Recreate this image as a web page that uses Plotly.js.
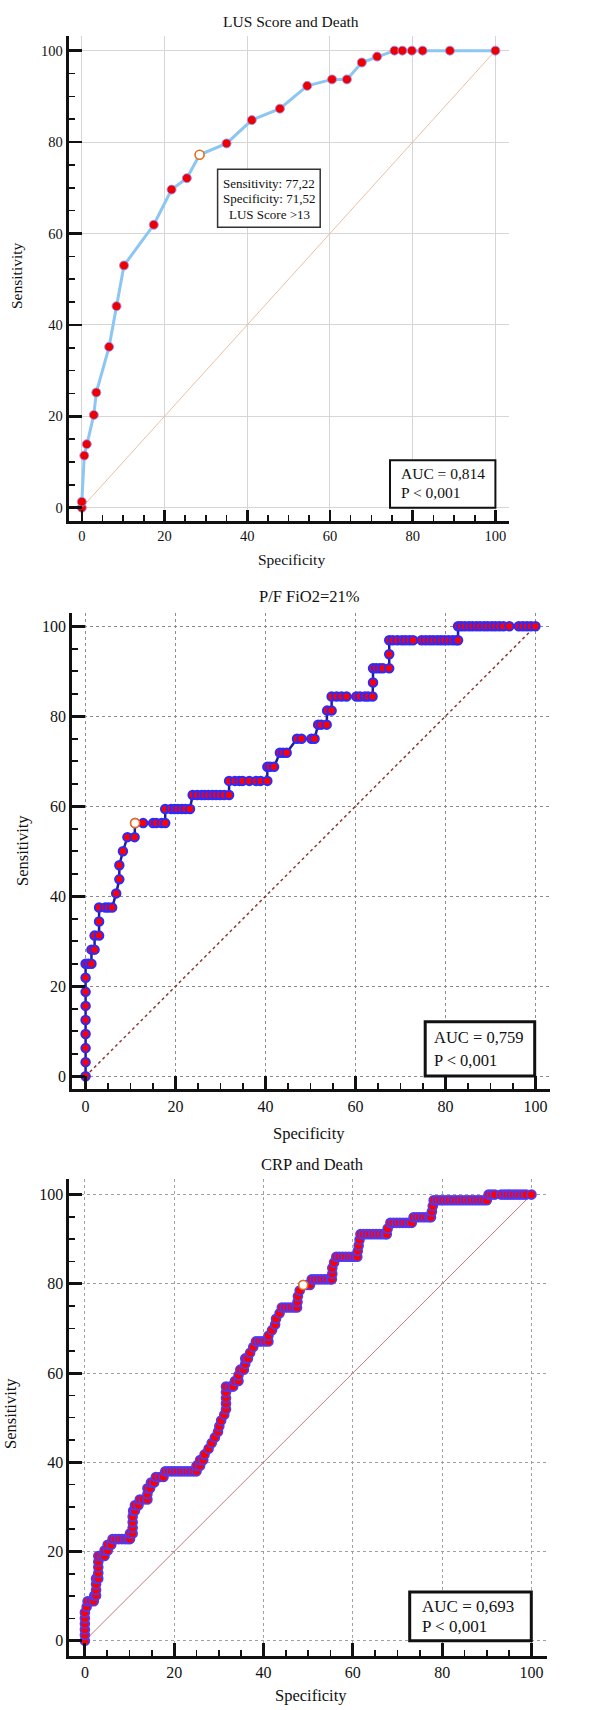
<!DOCTYPE html>
<html>
<head>
<meta charset="utf-8">
<script src="https://cdn.plot.ly/plotly-3.0.1.min.js"></script>
<style>
  html, body { margin: 0; padding: 0; background: #fff; }
  #chart { width: 605px; height: 1710px; }
</style>
</head>
<body>
<div id="chart"></div>
<script>
// ---------------- DATA ----------------
const titles = ["LUS Score and Death", "P/F FiO2=21%", "CRP and Death"];
const axisTitleX = "Specificity";
const axisTitleY = "Sensitivity";
const tickVals = [0, 20, 40, 60, 80, 100];
const diagX = [0, 100];
const diagY = [0, 100];

// Chart 1: LUS Score and Death
const lusSpec = [0, 0, 0.6, 1.2, 2.9, 3.5, 6.6, 8.4, 10.2, 17.4, 21.7, 25.4, 28.48, 35.0, 41.1, 47.9, 54.5, 60.5, 64.1, 67.7, 71.4, 75.6, 77.5, 79.8, 82.4, 89.0, 100];
const lusSens = [0, 1.3, 11.4, 13.9, 20.3, 25.2, 35.2, 44.1, 53.0, 61.9, 69.6, 72.1, 77.22, 79.7, 84.8, 87.3, 92.3, 93.7, 93.7, 97.4, 98.7, 100, 100, 100, 100, 100, 100];
const lusOpt = {spec: 28.48, sens: 77.22};
const lusCriterion = ["Sensitivity: 77,22", "Specificity: 71,52", "LUS Score >13"];
const lusStats = ["AUC = 0,814", "P < 0,001"];

// Chart 2: P/F FiO2=21%  (sensitivity levels and the specificity points on each level)
const pfLevels = [0, 3.13, 6.25, 9.38, 12.5, 15.63, 18.75, 21.88, 25, 28.13, 31.25, 34.38, 37.5, 40.63, 43.75, 46.88, 50, 53.13, 56.25, 59.38, 62.5, 65.63, 68.75, 71.88, 75, 78.13, 81.25, 84.38, 87.5, 90.63, 93.75, 96.88, 100];
const pfSpecByLevel = [
  [0], [0], [0], [0], [0], [0], [0], [0],
  [0, 0.6, 1.3],
  [1.3, 2.0],
  [2.0, 3.0],
  [3.0],
  [3.0, 4.4, 5.1, 5.9],
  [6.8],
  [7.5],
  [7.5],
  [8.3],
  [9.3, 10.9],
  [11.0, 12.8, 15.0, 15.7, 16.9, 17.7],
  [17.7, 19.0, 19.8, 20.5, 21.4, 22.2, 23.2],
  [23.8, 24.8, 25.8, 26.5, 27.3, 28.2, 29.0, 29.9, 30.8, 31.9],
  [31.9, 33.2, 34.2, 34.9, 36.4, 37.9, 38.9, 40.4],
  [40.4, 41.0, 41.9],
  [43.2, 43.9, 44.7],
  [47.0, 48.0, 50.2, 50.9],
  [51.7, 52.4, 53.6],
  [53.7, 54.7],
  [54.7, 55.8, 56.9, 58.0, 60.2, 61.0, 62.1, 62.8, 63.8],
  [63.9],
  [63.9, 64.6, 65.4, 66.1, 67.5],
  [67.5],
  [67.5, 68.3, 69.3, 70.3, 71.1, 72.0, 72.8, 74.7, 75.6, 76.5, 77.3, 78.2, 79.0, 79.8, 80.7, 81.6, 82.4, 82.8],
  [82.8, 83.5, 84.3, 85.2, 86.0, 86.9, 87.7, 88.6, 89.4, 90.3, 91.1, 92.0, 92.9, 94.2, 96.3, 97.2, 98.1, 99.0, 100]
];
const pfOpt = {spec: 11.0, sens: 56.25};
const pfStats = ["AUC = 0,759", "P < 0,001"];

// Chart 3: CRP and Death
const crpLevels = [0, 1.27, 2.53, 3.80, 5.06, 6.33, 7.59, 8.86, 10.13, 11.39, 12.66, 13.92, 15.19, 16.46, 17.72, 18.99, 20.25, 21.52, 22.78, 24.05, 25.32, 26.58, 27.85, 29.11, 30.38, 31.65, 32.91, 34.18, 35.44, 36.71, 37.97, 39.24, 40.51, 41.77, 43.04, 44.30, 45.57, 46.84, 48.10, 49.37, 50.63, 51.90, 53.16, 54.43, 55.70, 56.96, 58.23, 59.49, 60.76, 62.03, 63.29, 64.56, 65.82, 67.09, 68.35, 69.62, 70.89, 72.15, 73.42, 74.68, 75.95, 77.22, 78.48, 79.75, 81.01, 82.28, 83.54, 84.81, 86.08, 87.34, 88.61, 89.87, 91.14, 92.41, 93.67, 94.94, 96.20, 97.47, 98.73, 100];
const crpSpecByLevel = [
  [0], [0], [0], [0], [0], [0],
  [0.4],
  [0.6, 1.3, 2.0],
  [2.1, 2.5],
  [2.5],
  [2.5],
  [2.5, 3.0],
  [3.0],
  [3.0],
  [3.0],
  [3.0, 3.8, 4.4],
  [4.4, 5.1],
  [5.1, 5.9],
  [6.2, 6.9, 7.6, 8.3, 9.0, 9.6, 10.1],
  [10.1, 10.7],
  [10.7],
  [10.7],
  [10.7],
  [10.8, 11.2],
  [11.2, 12.0],
  [12.3, 13.1, 14.0],
  [14.0],
  [14.0, 14.6],
  [14.8, 15.5],
  [15.9, 16.8, 17.6],
  [18.0, 18.7, 19.4, 20.1, 20.8, 21.5, 22.2, 22.9, 23.6, 24.3, 25.0],
  [25.0, 25.8],
  [25.8, 26.5],
  [26.8],
  [27.7],
  [28.4],
  [29.1],
  [29.8],
  [30.1],
  [30.5],
  [31.2],
  [31.6],
  [31.6],
  [31.6],
  [31.6],
  [31.6, 32.5, 33.2],
  [33.6, 34.4],
  [34.4],
  [34.8, 35.6],
  [35.9],
  [35.9, 36.5],
  [37.0],
  [37.7],
  [38.3, 39.0, 39.7, 40.4, 41.1],
  [41.1],
  [41.9],
  [42.6],
  [42.8],
  [43.6],
  [44.1, 44.8, 45.5, 46.2, 46.9, 47.5],
  [47.6],
  [47.7],
  [48.1],
  [48.9, 49.6, 50.4],
  [50.8, 51.5, 52.2, 52.9, 53.6, 54.3, 55.0, 55.3],
  [55.4],
  [55.4],
  [55.8],
  [56.3, 57.0, 57.7, 58.4, 59.1, 59.8, 60.4, 61.0],
  [61.1],
  [61.3],
  [61.5],
  [61.7, 62.4, 63.1, 63.8, 64.5, 65.2, 65.9, 66.6, 67.3, 67.6],
  [67.8],
  [68.4, 69.1, 69.8, 70.5, 71.2, 71.9, 72.6, 73.2],
  [73.6, 74.3, 75.0, 75.7, 76.4, 77.1, 77.5],
  [77.7],
  [77.9],
  [78.1, 78.8, 79.5, 80.2, 80.9, 81.6, 82.3, 83.0, 83.7, 84.4, 85.1, 85.8, 86.5, 87.2, 87.9, 88.6, 89.3, 90.0],
  [90.4, 91.1, 91.8, 93.2, 93.9, 94.6, 95.3, 96.0, 96.7, 97.4, 98.1, 98.8, 100]
];
const crpOpt = {spec: 48.9, sens: 79.75};
const crpStats = ["AUC = 0,693", "P < 0,001"];

// ---------------- BUILD ----------------
function flatten(levels, specRows) {
  const xs = [], ys = [];
  specRows.forEach((row, i) => row.forEach(v => { xs.push(v); ys.push(levels[i]); }));
  return {x: xs, y: ys};
}
const pf = flatten(pfLevels, pfSpecByLevel);
const crp = flatten(crpLevels, crpSpecByLevel);

const W = 605, H = 1710;
const PX = v => v / W;
const PY = v => 1 - v / H;
const FONT = "Liberation Serif, Times New Roman, serif";
const TXT = "#111";

function axis(domain, range, anchor, o) {
  return {
    domain: domain, range: range, anchor: anchor,
    tickmode: "array", tickvals: tickVals,
    showline: true, linecolor: "#111", linewidth: o.lw,
    ticks: "inside", ticklen: o.ticklen, tickwidth: o.tw, tickcolor: "#111",
    minor: {ticks: "inside", ticklen: o.minorlen, tickwidth: 1.6, tickcolor: "#111", dtick: 5, tick0: 0, showgrid: false},
    showgrid: true, gridcolor: o.gridcolor, gridwidth: 1, griddash: o.griddash,
    zeroline: false, mirror: false,
    tickfont: {family: FONT, size: o.fs, color: TXT},
    ticklabelstandoff: o.standoff || 0,
    fixedrange: true
  };
}

const layout = {
  width: W, height: H,
  margin: {l: 0, r: 0, t: 0, b: 0},
  paper_bgcolor: "#fff", plot_bgcolor: "#fff",
  showlegend: false,
  xaxis: axis([PX(68.7), PX(509.3)], [-3.17, 103.36], "y",
    {lw: 3, ticklen: 11, tw: 2.5, minorlen: 6, gridcolor: "#d6d6d6", griddash: "solid", fs: 14.5}),
  yaxis: axis([PY(520.7), PY(36)], [-2.84, 103.2], "x",
    {lw: 3, ticklen: 13, tw: 2.5, minorlen: 6, gridcolor: "#d6d6d6", griddash: "solid", fs: 14.5}),
  xaxis2: axis([PX(72.1), PX(549.8)], [-3.0, 103.2], "y2",
    {lw: 3, ticklen: 13, tw: 3, minorlen: 6, gridcolor: "#8c8c8c", griddash: "dot", fs: 16}),
  yaxis2: axis([PY(1089.3), PY(612.7)], [-2.9, 103.0], "x2",
    {lw: 3, ticklen: 13, tw: 3, minorlen: 6, gridcolor: "#8c8c8c", griddash: "dot", fs: 16}),
  xaxis3: axis([PX(69.4), PX(547.1)], [-3.47, 103.5], "y3",
    {lw: 3, ticklen: 13, tw: 3, minorlen: 6, gridcolor: "#a0a0a0", griddash: "dot", fs: 16}),
  yaxis3: axis([PY(1655.7), PY(1179)], [-3.36, 103.5], "x3",
    {lw: 3, ticklen: 13, tw: 3, minorlen: 6, gridcolor: "#a0a0a0", griddash: "dot", fs: 16}),
  shapes: [],
  annotations: []
};

function ann(text, x, y, size, opts) {
  layout.annotations.push(Object.assign({
    text: text, xref: "paper", yref: "paper", x: PX(x), y: PY(y),
    xanchor: "center", yanchor: "middle", showarrow: false,
    font: {family: FONT, size: size, color: TXT}
  }, opts || {}));
}
function box(x0, y0, x1, y1, w, color) {
  layout.shapes.push({type: "rect", xref: "paper", yref: "paper",
    x0: PX(x0), x1: PX(x1), y0: PY(y1), y1: PY(y0),
    line: {color: color || "#111", width: w}, fillcolor: "#fff", layer: "above"});
}

// Titles
ann(titles[0], 290.5, 21, 15.5);
ann(titles[1], 309.8, 596, 16.5);
ann(titles[2], 312, 1164.3, 16.5);
// Axis titles
ann(axisTitleX, 291.7, 559.3, 15.5);
ann(axisTitleX, 309.4, 1133.3, 16.5);
ann(axisTitleX, 311.1, 1695, 16.5);
ann(axisTitleY, 16, 276, 15.5, {textangle: -90});
ann(axisTitleY, 22, 851, 16.5, {textangle: -90});
ann(axisTitleY, 10, 1414, 16.5, {textangle: -90});

// Chart 1 criterion box
box(217.6, 169.3, 320.2, 227.3, 1.5, "#333");
ann(lusCriterion[0], 269, 183.5, 13);
ann(lusCriterion[1], 269, 199, 13);
ann(lusCriterion[2], 269, 214.5, 13);

// AUC boxes
box(390, 460.3, 495.4, 507.7, 2);
ann(lusStats[0], 398.5, 474, 15.5, {xanchor: "left"});
ann(lusStats[1], 398.5, 492.7, 15.5, {xanchor: "left"});

box(425.2, 1021.7, 534.7, 1076, 3);
ann(pfStats[0], 432, 1037.7, 16.5, {xanchor: "left"});
ann(pfStats[1], 432, 1060, 16.5, {xanchor: "left"});

box(409.7, 1592, 531.3, 1640.7, 3);
ann(crpStats[0], 419.8, 1606.7, 17, {xanchor: "left"});
ann(crpStats[1], 419.8, 1626, 17, {xanchor: "left"});

const traces = [
  // Chart 1
  {x: diagX, y: diagY, xaxis: "x", yaxis: "y", mode: "lines", line: {color: "rgb(232,192,165)", width: 1}, hoverinfo: "skip"},
  {x: lusSpec, y: lusSens, xaxis: "x", yaxis: "y", mode: "lines+markers",
   line: {color: "rgb(140,198,242)", width: 3},
   marker: {color: "#ee0000", size: 9, line: {color: "rgba(150,150,255,0.9)", width: 1}}},
  {x: [lusOpt.spec], y: [lusOpt.sens], xaxis: "x", yaxis: "y", mode: "markers",
   marker: {color: "#fff", size: 9, line: {color: "#e8701a", width: 1.6}}},
  // Chart 2
  {x: diagX, y: diagY, xaxis: "x2", yaxis: "y2", mode: "lines", line: {color: "#8b3a3a", width: 1.5, dash: "dot"}, hoverinfo: "skip"},
  {x: pf.x, y: pf.y, xaxis: "x2", yaxis: "y2", mode: "lines+markers",
   line: {color: "#1e1e9a", width: 2.5},
   marker: {color: "#ff0000", size: 8.5, line: {color: "#2b2bff", width: 2}}},
  {x: [pfOpt.spec], y: [pfOpt.sens], xaxis: "x2", yaxis: "y2", mode: "markers",
   marker: {color: "#fff", size: 9, line: {color: "#e8701a", width: 1.6}}},
  // Chart 3
  {x: diagX, y: diagY, xaxis: "x3", yaxis: "y3", mode: "lines", line: {color: "rgb(200,120,120)", width: 1}, hoverinfo: "skip"},
  {x: crp.x, y: crp.y, xaxis: "x3", yaxis: "y3", mode: "lines+markers",
   line: {color: "#2020a0", width: 2},
   marker: {color: "#ff0000", size: 9, line: {color: "#4a3cff", width: 1.6}}},
  {x: [crpOpt.spec], y: [crpOpt.sens], xaxis: "x3", yaxis: "y3", mode: "markers",
   marker: {color: "#fff", size: 9, line: {color: "#e8701a", width: 1.6}}}
];

Plotly.newPlot("chart", traces, layout, {displayModeBar: false, staticPlot: true});
</script>
</body>
</html>
